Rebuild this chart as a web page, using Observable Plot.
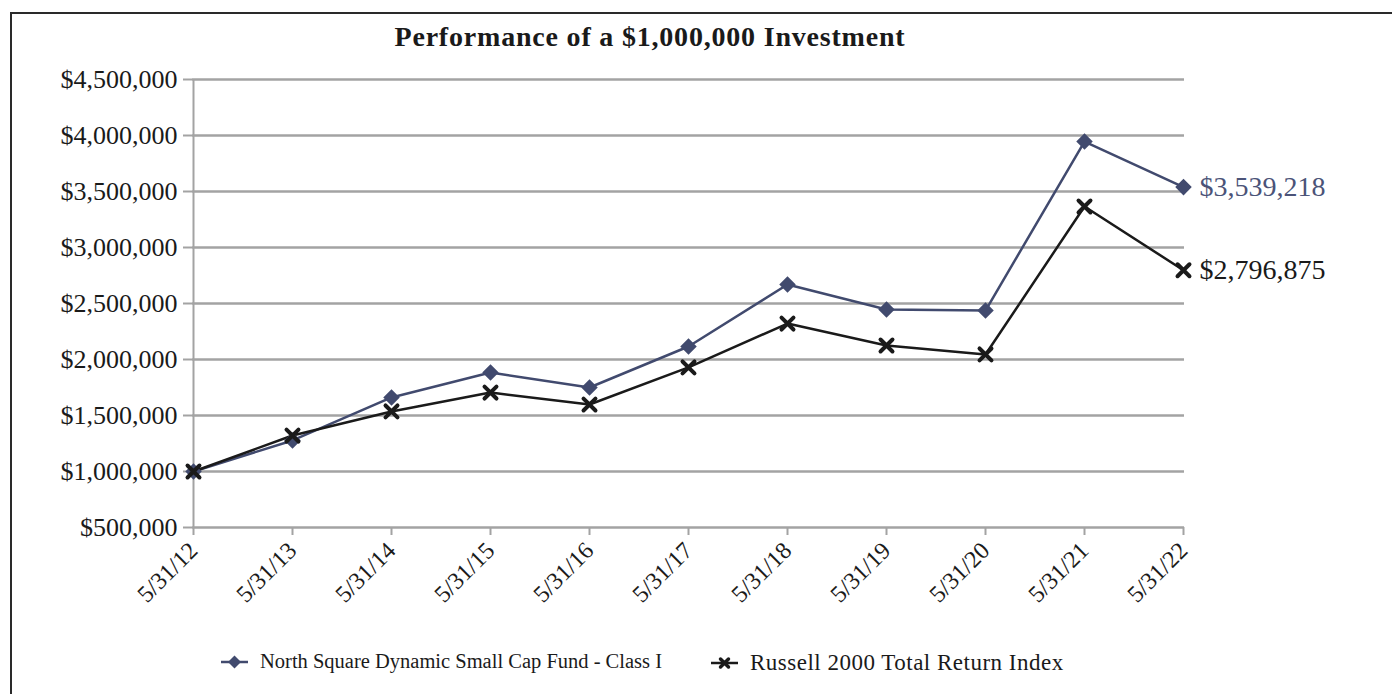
<!DOCTYPE html>
<html>
<head>
<meta charset="utf-8">
<script src="https://cdn.jsdelivr.net/npm/d3@7"></script>
<script src="https://cdn.jsdelivr.net/npm/@observablehq/plot@0.6"></script>
<style>
  html, body { margin: 0; padding: 0; background: #fff; overflow: hidden; }
  #wrap { position: relative; width: 1392px; height: 694px; overflow: hidden; font-family: "Liberation Serif", serif; }
  #frame { position: absolute; left: 10px; top: 12px; width: 1420px; height: 720px; border: 2px solid #2a2a2a; box-sizing: border-box; }
  #title { position: absolute; left: 0; width: 1300px; top: 21px; text-align: center; font-weight: bold; font-size: 28px; letter-spacing: 0.8px; color: #1a1a1a; }
  #chart { position: absolute; left: 0; top: 0; }
  .leg { position: absolute; top: 650px; font-size: 20.5px; color: #1a1a1a; display: flex; align-items: center; white-space: nowrap; }
  .leg svg { margin-right: 10px; }
</style>
</head>
<body>
<div id="wrap">
  <div id="frame"></div>
  <div id="chart"></div>
  <div id="title">Performance of a $1,000,000 Investment</div>
  <div class="leg" id="leg1" style="left:218px"></div>
  <div class="leg" id="leg2" style="left:708px; font-size: 23px; letter-spacing: 0.5px;"></div>
</div>
<script>
const dates = ["5/31/12","5/31/13","5/31/14","5/31/15","5/31/16","5/31/17","5/31/18","5/31/19","5/31/20","5/31/21","5/31/22"];
const fundName = "North Square Dynamic Small Cap Fund - Class I";
const indexName = "Russell 2000 Total Return Index";
const fundValues = [1000000, 1277000, 1661000, 1884000, 1750000, 2116000, 2670000, 2446000, 2437000, 3946000, 3539218];
const indexValues = [1000000, 1321000, 1536000, 1705000, 1598000, 1929000, 2321000, 2125000, 2045000, 3366000, 2796875];
const yTicks = [500000, 1000000, 1500000, 2000000, 2500000, 3000000, 3500000, 4000000, 4500000];

const fundColor = "#414a6e";
const indexColor = "#1a1a1a";
const gridColor = "#a3a3a3";

const fundData = dates.map((d, i) => ({date: d, value: fundValues[i]}));
const indexData = dates.map((d, i) => ({date: d, value: indexValues[i]}));
const fmt = v => "$" + d3.format(",")(v);

const chart = Plot.plot({
  width: 1392,
  height: 694,
  marginLeft: 192,
  marginRight: 208,
  marginTop: 79,
  marginBottom: 167,
  style: {fontFamily: "Liberation Serif, serif", fontSize: "24px", background: "transparent", color: "#1a1a1a"},
  x: {type: "point", domain: dates, padding: 0},
  y: {domain: [500000, 4500000]},
  marks: [
    Plot.ruleY(yTicks, {stroke: gridColor, strokeWidth: 2.5}),
    Plot.ruleX([dates[0]], {y1: 500000, y2: 4500000, stroke: gridColor, strokeWidth: 2}),
    Plot.axisY({ticks: yTicks, tickFormat: fmt, tickSize: 9, tickPadding: 6, stroke: gridColor, strokeWidth: 2, fill: "#1a1a1a", fontSize: 26, label: null}),
    Plot.axisX({tickRotate: -45, tickSize: 8, tickPadding: 11, stroke: gridColor, strokeWidth: 2, fill: "#1a1a1a", fontSize: 24, label: null}),
    Plot.line(fundData, {x: "date", y: "value", stroke: fundColor, strokeWidth: 2.5}),
    Plot.line(indexData, {x: "date", y: "value", stroke: indexColor, strokeWidth: 2.5}),
    Plot.dot(fundData, {x: "date", y: "value", symbol: "square", rotate: 45, r: 6.6, fill: fundColor, stroke: "none"}),
    Plot.dot(indexData, {x: "date", y: "value", symbol: "times", r: 5.5, stroke: indexColor, strokeWidth: 4, strokeLinecap: "round"}),
    Plot.text([fundData[fundData.length - 1]], {x: "date", y: "value", text: d => fmt(d.value), textAnchor: "start", dx: 16, fill: "#4b5378", fontSize: 28}),
    Plot.text([indexData[indexData.length - 1]], {x: "date", y: "value", text: d => fmt(d.value), textAnchor: "start", dx: 16, fill: indexColor, fontSize: 28})
  ]
});
document.getElementById("chart").appendChild(chart);

function legendIcon(kind, color) {
  const ns = "http://www.w3.org/2000/svg";
  const s = document.createElementNS(ns, "svg");
  s.setAttribute("width", 32); s.setAttribute("height", 20);
  const l = document.createElementNS(ns, "line");
  l.setAttribute("x1", 3); l.setAttribute("x2", 30); l.setAttribute("y1", 10); l.setAttribute("y2", 10);
  l.setAttribute("stroke", color); l.setAttribute("stroke-width", 2.5);
  s.appendChild(l);
  if (kind === "diamond") {
    const p = document.createElementNS(ns, "path");
    p.setAttribute("d", "M16.5,3.5 L23,10 L16.5,16.5 L10,10 Z");
    p.setAttribute("fill", color);
    s.appendChild(p);
  } else {
    const p = document.createElementNS(ns, "path");
    p.setAttribute("d", "M12.5,6 L20.5,14 M20.5,6 L12.5,14");
    p.setAttribute("stroke", color); p.setAttribute("stroke-width", 3.5); p.setAttribute("stroke-linecap", "round");
    s.appendChild(p);
  }
  return s;
}
const l1 = document.getElementById("leg1");
l1.appendChild(legendIcon("diamond", fundColor));
l1.appendChild(document.createTextNode(fundName));
const l2 = document.getElementById("leg2");
l2.appendChild(legendIcon("times", indexColor));
l2.appendChild(document.createTextNode(indexName));
</script>
</body>
</html>
